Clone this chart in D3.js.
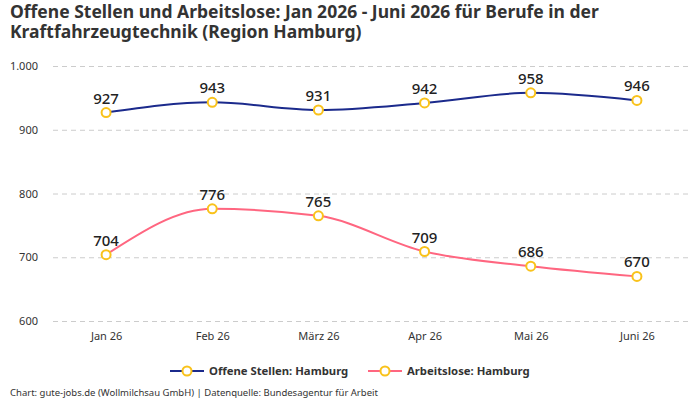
<!DOCTYPE html>
<html>
<head>
<meta charset="utf-8">
<script src="https://cdn.jsdelivr.net/npm/d3@7"></script>
<style>
  body { margin: 0; background: #fff; }
  text { font-family: "Noto Sans", sans-serif; }
</style>
</head>
<body>
<script>
// chart data
var months = ["Jan 26", "Feb 26", "März 26", "Apr 26", "Mai 26", "Juni 26"];
var offeneStellen = [927, 943, 931, 942, 958, 946];
var arbeitslose = [704, 776, 765, 709, 686, 670];
var yTicks = [600, 700, 800, 900, 1000];
var seriesNames = ["Offene Stellen: Hamburg", "Arbeitslose: Hamburg"];
var seriesColors = ["#1b2a8c", "#ff6680"];
var titleLines = ["Offene Stellen und Arbeitslose: Jan 2026 - Juni 2026 für Berufe in der",
                  "Kraftfahrzeugtechnik (Region Hamburg)"];

var width = 700, height = 400;

var svg = d3.select("body").append("svg")
  .attr("width", width)
  .attr("height", height);

// title, one text per line
svg.selectAll("text.title")
  .data(titleLines)
  .enter()
  .append("text")
  .attr("class", "title")
  .attr("x", 10)
  .attr("y", function(d, i) { return 18 + i * 20; })
  .style("font-size", "17.5px")
  .style("font-weight", "700")
  .style("fill", "#333")
  .text(function(d) { return d; });

var x = d3.scalePoint()
  .domain(months)
  .range([53, 690])
  .padding(0.5);

var y = d3.scaleLinear()
  .domain([600, 1000])
  .range([321, 66]);

var fmt = d3.formatLocale({ decimal: ",", thousands: ".", grouping: [3], currency: ["", "€"] }).format(",");

// grid + y labels
var yAxis = svg.append("g")
  .attr("transform", "translate(53,0)")
  .call(d3.axisLeft(y).tickValues(yTicks).tickSize(-637).tickPadding(15).tickFormat(fmt));
yAxis.select(".domain").remove();
yAxis.selectAll(".tick line")
  .attr("stroke", "#ccc")
  .attr("stroke-dasharray", "5,4");
yAxis.selectAll(".tick text")
  .attr("fill", "#333")
  .style("font-size", "11px");

// x labels
var xAxis = svg.append("g")
  .attr("transform", "translate(0,321)")
  .call(d3.axisBottom(x).tickSize(0).tickPadding(11));
xAxis.select(".domain").remove();
xAxis.selectAll(".tick text")
  .attr("fill", "#333")
  .style("font-size", "11px");

var line = d3.line()
  .x(function(d, i) { return x(months[i]); })
  .y(function(d) { return y(d); })
  .curve(d3.curveMonotoneX);

[offeneStellen, arbeitslose].forEach(function(values, s) {
  var g = svg.append("g");
  g.append("path")
    .datum(values)
    .attr("d", line)
    .attr("fill", "none")
    .attr("stroke", seriesColors[s])
    .attr("stroke-width", 2);

  g.selectAll("circle")
    .data(values)
    .enter()
    .append("circle")
    .attr("cx", function(d, i) { return x(months[i]); })
    .attr("cy", function(d) { return y(d); })
    .attr("r", 4.5)
    .attr("fill", "#fff")
    .attr("stroke", "#f9c21b")
    .attr("stroke-width", 2);

  g.selectAll("text.val")
    .data(values)
    .enter()
    .append("text")
    .attr("class", "val")
    .attr("x", function(d, i) { return x(months[i]); })
    .attr("y", function(d) { return y(d) - 9; })
    .attr("text-anchor", "middle")
    .style("font-size", "15px")
    .style("font-weight", "500")
    .style("fill", "#222")
    .text(function(d) { return fmt(d); });
});

// legend
var legendX = [170, 368];
seriesNames.forEach(function(name, s) {
  var lg = svg.append("g").attr("transform", "translate(" + legendX[s] + ",371)");
  lg.append("line")
    .attr("x1", 0).attr("x2", 34)
    .attr("stroke", seriesColors[s])
    .attr("stroke-width", 2);
  lg.append("circle")
    .attr("cx", 17).attr("r", 4.5)
    .attr("fill", "#fff")
    .attr("stroke", "#f9c21b")
    .attr("stroke-width", 2);
  lg.append("text")
    .attr("x", 39)
    .attr("dy", "0.35em")
    .style("font-size", "11.3px")
    .style("font-weight", "700")
    .style("fill", "#333")
    .text(name);
});

// footer
svg.append("text")
  .attr("x", 10)
  .attr("y", 396)
  .style("font-size", "9.5px")
  .style("fill", "#333")
  .text("Chart: gute-jobs.de (Wollmilchsau GmbH) | Datenquelle: Bundesagentur für Arbeit");
</script>
</body>
</html>
